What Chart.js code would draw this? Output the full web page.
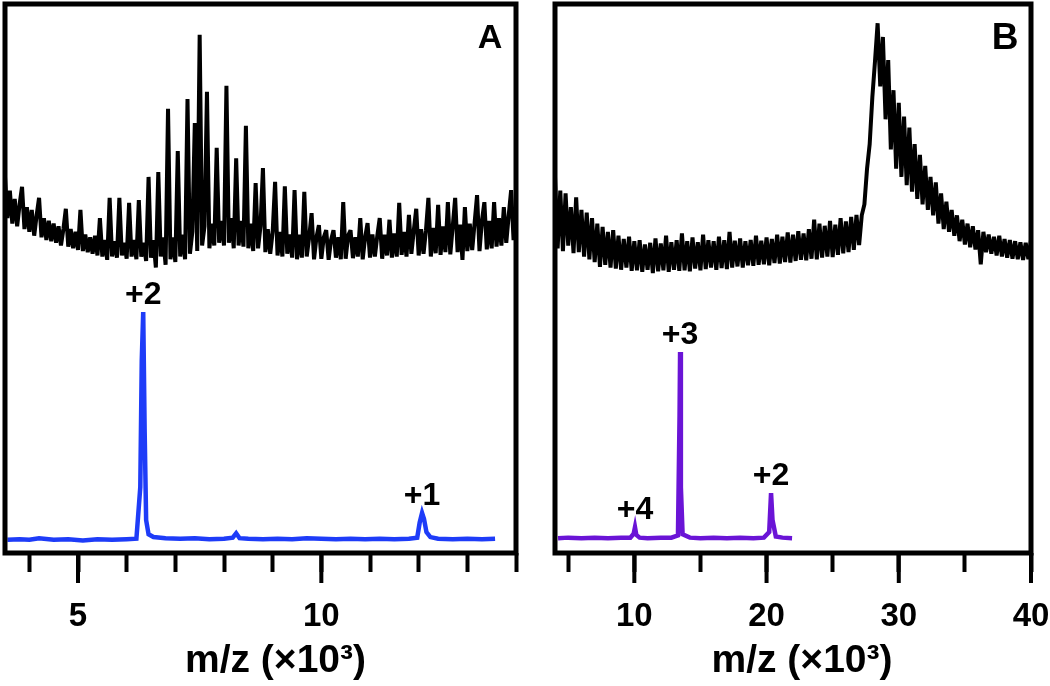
<!DOCTYPE html>
<html>
<head>
<meta charset="utf-8">
<script src="https://cdn.jsdelivr.net/npm/chart.js@4.4.0/dist/chart.umd.min.js"></script>
<style>
  body { margin: 0; background: #fff; }
  #wrap { position: relative; width: 1050px; height: 686px; }
  canvas { position: absolute; top: 0; }
  #chartA { left: 0; }
  #chartB { left: 540px; }
</style>
</head>
<body>
<div id="wrap">
  <canvas id="chartA" width="540" height="686"></canvas>
  <canvas id="chartB" width="510" height="686"></canvas>
</div>
<script>
// ---- panel A ----
// raw spectrum (black), sampled every 0.05 x10^3 m/z from 3.5
const gridA_start = 3.5;
const gridA_step = 0.05;
const rawA = [
  68.5, 61.0, 66.0, 60.0, 64.5, 59.5, 63.5, 66.7, 59.0, 63.0,
  58.5, 62.5, 57.8, 61.5, 64.7, 57.5, 61.0, 57.0, 60.5, 56.8,
  60.0, 56.5, 59.5, 56.0, 59.0, 62.7, 55.8, 59.0, 55.5, 58.5,
  55.2, 62.5, 55.0, 58.0, 54.8, 57.5, 54.5, 57.8, 54.2, 61.0,
  54.0, 57.0, 53.4, 64.7, 54.0, 56.8, 53.8, 64.7, 54.2, 56.5,
  53.6, 63.8, 54.0, 57.0, 53.5, 64.3, 54.0, 56.5, 53.2, 68.5,
  53.8, 57.0, 52.0, 69.4, 54.0, 57.5, 52.5, 80.9, 53.5, 57.5,
  53.0, 73.2, 54.0, 58.0, 53.5, 82.7, 54.5, 58.5, 78.3, 55.0,
  94.4, 56.0, 59.5, 84.0, 55.5, 60.0, 56.0, 73.8, 56.5, 60.5,
  56.0, 85.1, 56.5, 61.0, 55.5, 71.9, 56.0, 60.5, 55.8, 77.8,
  55.5, 60.0, 55.0, 67.4, 55.5, 59.5, 70.1, 54.8, 59.0, 54.5,
  58.5, 67.6, 54.2, 58.5, 54.0, 66.8, 54.5, 58.0, 53.8, 66.1,
  53.5, 58.0, 53.8, 65.8, 54.0, 57.5, 61.9, 53.5, 57.5, 59.7,
  53.6, 57.5, 58.8, 53.4, 57.0, 58.8, 53.8, 57.5, 53.5, 63.9,
  53.6, 57.8, 58.8, 53.7, 57.5, 54.0, 61.0, 53.5, 57.5, 60.1,
  53.8, 58.0, 54.0, 57.8, 61.0, 53.6, 58.0, 54.2, 60.7, 53.8,
  58.2, 54.0, 63.8, 54.3, 58.5, 54.0, 61.6, 54.5, 58.8, 62.7,
  54.2, 59.0, 54.5, 58.8, 64.7, 54.0, 59.2, 54.6, 63.4, 54.3,
  59.5, 54.8, 63.9, 54.4, 59.5, 64.7, 54.8, 59.8, 53.4, 63.0,
  55.0, 60.0, 55.2, 60.2, 65.2, 55.0, 60.5, 63.9, 55.3, 60.5,
  55.5, 63.9, 55.8, 61.0, 56.0, 63.0, 56.5, 61.5, 66.1, 57.0, 62.0
];
// purified sample (blue)
const pureA_mz = [3.55, 3.8, 4.0, 4.2, 4.5, 4.8, 5.1, 5.4, 5.7, 6.0,
  6.2, 6.28, 6.31, 6.34, 6.37, 6.40, 6.45, 6.55, 6.8, 7.1,
  7.4, 7.7, 8.0, 8.18, 8.25, 8.32, 8.5, 8.8, 9.1, 9.4,
  9.7, 10.0, 10.3, 10.6, 10.9, 11.2, 11.5, 11.8, 11.97, 12.02,
  12.07, 12.11, 12.16, 12.24, 12.4, 12.7, 13.0, 13.3, 13.57];
const pureA_int = [2.4, 2.5, 2.4, 2.7, 2.4, 2.5, 2.3, 2.5, 2.4, 2.5,
  2.6, 12.0, 35.0, 43.9, 22.0, 6.0, 3.4, 2.9, 2.7, 2.6,
  2.7, 2.5, 2.6, 2.8, 3.6, 2.7, 2.6, 2.5, 2.6, 2.5,
  2.7, 2.6, 2.5, 2.6, 2.5, 2.6, 2.5, 2.6, 2.8, 5.5,
  7.3, 6.2, 3.8, 2.9, 2.6, 2.5, 2.6, 2.5, 2.6];
const chargeA_mz = [6.34, 12.07];
const chargeA_int = [43.9, 7.3];
const chargeA_text = ['+2', '+1'];

// ---- panel B ----
const gridB_start = 4;
const gridB_step = 0.2;
const rawB = [
  68.5, 55.5, 66.0, 55.0, 65.5, 56.0, 63.0, 54.6, 64.8, 54.8,
  62.5, 54.0, 62.0, 53.5, 61.0, 53.0, 60.0, 52.1, 59.4, 52.5,
  58.5, 52.0, 58.8, 51.8, 57.8, 51.6, 57.2, 52.0, 57.6, 51.4,
  56.8, 51.5, 57.0, 51.2, 56.2, 51.6, 56.5, 51.0, 57.3, 51.3,
  56.4, 51.5, 57.8, 51.2, 56.6, 51.6, 57.0, 51.4, 58.2, 51.5,
  56.8, 51.3, 57.5, 51.8, 56.6, 51.5, 58.0, 51.7, 57.0, 52.0,
  56.8, 51.6, 57.6, 51.9, 57.0, 51.7, 58.5, 52.0, 56.9, 52.2,
  57.3, 52.0, 56.8, 52.4, 57.0, 52.3, 57.8, 52.5, 56.9, 52.6,
  57.5, 52.4, 57.2, 52.8, 58.0, 52.7, 57.6, 53.0, 58.4, 52.9,
  58.0, 53.2, 58.6, 53.4, 58.2, 53.3, 59.0, 53.6, 60.7, 53.5,
  60.0, 53.8, 59.6, 54.0, 60.5, 53.9, 59.8, 54.3, 61.0, 54.6,
  60.4, 54.8, 61.2, 55.2, 61.6, 56.1, 61.5, 63.5, 70.0, 74.5,
  83.0, 89.5, 96.5, 85.0, 94.0, 79.0, 89.8, 73.5, 84.3, 70.0,
  82.0, 68.5, 79.5, 67.0, 77.5, 65.8, 74.5, 64.5, 72.5, 63.5,
  70.5, 62.5, 68.5, 61.5, 67.5, 60.0, 65.5, 59.0, 64.0, 58.5,
  62.5, 57.8, 61.5, 56.8, 60.7, 56.2, 60.0, 55.7, 59.5, 55.3,
  58.8, 52.6, 58.5, 54.8, 58.0, 54.5, 57.6, 54.2, 57.8, 54.0,
  57.2, 53.8, 57.0, 53.6, 56.8, 53.5, 56.6, 53.4, 56.5, 53.5, 57.0
];
const pureB_mz = [4.23, 5, 6, 7, 8, 9, 9.7, 9.95, 10.05, 10.15,
  10.4, 11, 12, 12.8, 13.3, 13.42, 13.46, 13.52, 13.65, 14.2,
  15, 16, 17, 18, 19, 19.8, 20.2, 20.34, 20.45, 20.7,
  21.2, 21.93];
const pureB_int = [2.7, 2.8, 2.7, 2.8, 2.7, 2.8, 2.8, 3.5, 4.7, 3.3,
  2.8, 2.7, 2.8, 2.8, 3.2, 25, 36.6, 12, 3.4, 2.8,
  2.7, 2.8, 2.7, 2.8, 2.7, 2.8, 3.8, 10.9, 6, 3.0,
  2.8, 2.7];
const chargeB_mz = [10.05, 13.46, 20.34];
const chargeB_int = [4.7, 36.6, 10.9];
const chargeB_text = ['+4', '+3', '+2'];

const axisTitle = 'm/z (×10³)';
const FONT = '"Liberation Sans", Arial, sans-serif';

const toPoints = (xs, ys) => xs.map((x, i) => ({ x: x, y: ys[i] }));
const gridPoints = (start, step, ys) => ys.map((y, i) => ({ x: start + i * step, y: y }));

// frame, long major ticks, panel letter, charge labels and axis title
const framePlugin = {
  id: 'frame',
  afterDatasetsDraw(chart, args, opts) {
    const { ctx, chartArea: a, scales } = chart;
    ctx.save();
    ctx.strokeStyle = '#000';
    ctx.lineWidth = 5;
    ctx.strokeRect(a.left, a.top, a.right - a.left, a.bottom - a.top);

    ctx.lineWidth = 4;
    opts.major.forEach((v) => {
      const px = scales.x.getPixelForValue(v);
      ctx.beginPath();
      ctx.moveTo(px, a.bottom);
      ctx.lineTo(px, a.bottom + 30);
      ctx.stroke();
    });

    ctx.fillStyle = '#000';
    ctx.textAlign = 'center';
    ctx.textBaseline = 'middle';
    ctx.font = 'bold ' + opts.letterSize + 'px ' + FONT;
    ctx.fillText(opts.letter, a.right - 26, a.top + 35);

    ctx.font = 'bold 39px ' + FONT;
    ctx.fillText(axisTitle, (a.left + a.right) / 2 + opts.titleShift, a.bottom + 108);

    ctx.font = 'bold 32px ' + FONT;
    ctx.textBaseline = 'alphabetic';
    opts.mz.forEach((mz, i) => {
      const px = scales.x.getPixelForValue(mz);
      const py = scales.y.getPixelForValue(opts.int[i]);
      ctx.fillText(opts.text[i], px, py - 8);
    });
    ctx.restore();
  }
};

function makeChart(id, cfg) {
  return new Chart(document.getElementById(id), {
    type: 'line',
    data: {
      datasets: [
        {
          data: cfg.raw,
          borderColor: '#000',
          borderWidth: 4,
          borderJoinStyle: 'bevel',
          pointRadius: 0,
          tension: 0,
        },
        {
          data: cfg.pure,
          borderColor: cfg.color,
          borderWidth: 4.5,
          pointRadius: 0,
          tension: 0,
        },
      ],
    },
    options: {
      responsive: false,
      animation: false,
      devicePixelRatio: 1,
      layout: { padding: cfg.padding },
      plugins: {
        legend: { display: false },
        tooltip: { enabled: false },
        frame: cfg.frame,
      },
      scales: {
        x: {
          type: 'linear',
          min: cfg.min,
          max: cfg.max,
          afterFit: (scale) => {
            scale.height = 133;
            scale.paddingLeft = 0;
            scale.paddingRight = 0;
          },
          border: { display: false },
          grid: {
            display: true,
            drawOnChartArea: false,
            drawTicks: true,
            tickLength: 19,
            tickWidth: 4,
            tickColor: '#000',
          },
          ticks: {
            stepSize: cfg.step,
            includeBounds: false,
            autoSkip: false,
            maxRotation: 0,
            padding: 25,
            color: '#000',
            font: { family: FONT, size: 33, weight: 'bold' },
            callback: (v) => (cfg.frame.major.includes(v) ? String(v) : ''),
          },
        },
        y: { display: false, min: 0, max: 100 },
      },
    },
    plugins: [framePlugin],
  });
}

makeChart('chartA', {
  raw: gridPoints(gridA_start, gridA_step, rawA),
  pure: toPoints(pureA_mz, pureA_int),
  color: '#1e3cf8',
  min: 3.5,
  max: 14,
  step: 1,
  padding: { left: 5, right: 24, top: 4, bottom: 0 },
  frame: { letter: 'A', letterSize: 34, titleShift: 15, major: [5, 10],
           mz: chargeA_mz, int: chargeA_int, text: chargeA_text },
});

makeChart('chartB', {
  raw: gridPoints(gridB_start, gridB_step, rawB),
  pure: toPoints(pureB_mz, pureB_int),
  color: '#6a14d6',
  min: 4,
  max: 40,
  step: 5,
  padding: { left: 15, right: 19, top: 4, bottom: 0 },
  frame: { letter: 'B', letterSize: 37, titleShift: 9, major: [10, 20, 30, 40],
           mz: chargeB_mz, int: chargeB_int, text: chargeB_text },
});
</script>
</body>
</html>
